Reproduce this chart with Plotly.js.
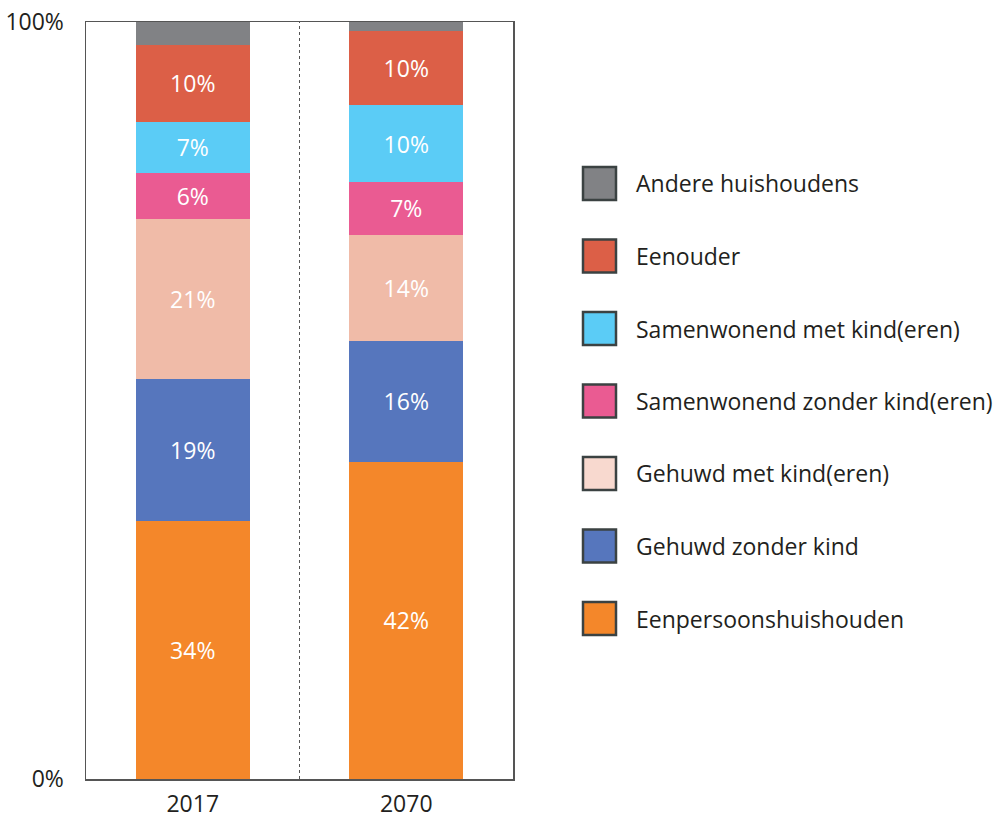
<!DOCTYPE html>
<html>
<head>
<meta charset="utf-8">
<script src="https://cdn.plot.ly/plotly-3.0.1.min.js"></script>
<style>html,body{margin:0;padding:0;background:#fff;}#chart{width:999px;height:820px;}</style>
</head>
<body>
<div id="chart"></div>
<script>
// Data
const years = ['2017', '2070'];
// bottom to top stacking order
const categories = [
  'Eenpersoonshuishouden',
  'Gehuwd zonder kind',
  'Gehuwd met kind(eren)',
  'Samenwonend zonder kind(eren)',
  'Samenwonend met kind(eren)',
  'Eenouder',
  'Andere huishoudens'
];
const values2017 = [34.1, 18.8, 21.1, 6.1, 6.7, 10.2, 3.0];
const values2070 = [41.9, 16.0, 14.0, 7.0, 10.1, 9.8, 1.2];
const barColors = ['#F4872A', '#5676BD', '#F0BBA8', '#EA5B92', '#5BCCF6', '#DC5F47', '#818285'];
const legendColors = ['#F4872A', '#5676BD', '#F8D9CF', '#EA5B92', '#5BCCF6', '#DC5F47', '#818285'];
const showLabel = [true, true, true, true, true, true, false];
const yTickVals = [0, 100];
const yTickText = ['0%', '100%'];

const FONT = '"Open Sans", "Noto Sans", sans-serif';
const TXT = '#231f20';
const FS = 23;

const traces = categories.map((c, i) => ({
  type: 'bar',
  name: c,
  x: years,
  y: [values2017[i], values2070[i]],
  marker: {color: barColors[i], line: {width: 0}},
  texttemplate: showLabel[i] ? '%{y:.0f}%' : '',
  textposition: showLabel[i] ? 'inside' : 'none',
  insidetextanchor: 'middle',
  textangle: 0,
  insidetextfont: {family: FONT, size: FS, color: '#ffffff'},
  hoverinfo: 'skip',
  showlegend: false
}));

// plot area in pixels
const L = 86, R = 513, T = 22, B = 779;
const px2x = p => (p - L) / (R - L);
const py2y = p => (B - p) / (B - T);

const shapes = [
  {type: 'line', xref: 'x', yref: 'paper', x0: 0.5, x1: 0.5, y0: 0, y1: 1,
   line: {color: '#555', width: 1, dash: 'dot'}, layer: 'below'}
];
const annotations = [];
// legend, top to bottom
for (let k = 0; k < categories.length; k++) {
  const i = categories.length - 1 - k;
  const cy = 183.5 + k * 72.5;
  shapes.push({
    type: 'rect', xref: 'paper', yref: 'paper',
    x0: px2x(583), x1: px2x(616), y0: py2y(cy + 16.5), y1: py2y(cy - 16.5),
    fillcolor: legendColors[i], line: {color: '#3b4242', width: 2.5}
  });
  annotations.push({
    xref: 'paper', yref: 'paper', x: px2x(634), y: py2y(cy),
    xanchor: 'left', yanchor: 'middle', showarrow: false,
    text: categories[i], font: {family: FONT, size: FS, color: TXT}
  });
}

const layout = {
  width: 999, height: 820,
  margin: {l: L, r: 999 - R, t: T, b: 820 - B, pad: 0},
  paper_bgcolor: '#fff', plot_bgcolor: '#fff',
  barmode: 'stack',
  bargap: 0.466,
  showlegend: false,
  font: {family: FONT, size: FS, color: TXT},
  xaxis: {
    type: 'category', range: [-0.5, 1.5],
    showgrid: false, zeroline: false,
    showline: true, linecolor: '#555', linewidth: 1.5, mirror: true,
    ticks: '', ticklabelstandoff: 4,
    tickfont: {family: FONT, size: FS, color: TXT},
    fixedrange: true
  },
  yaxis: {
    range: [0, 100],
    tickvals: yTickVals, ticktext: yTickText,
    showgrid: false, zeroline: false,
    showline: true, linecolor: '#555', linewidth: 1.5, mirror: true,
    ticks: '', ticklabelstandoff: 16,
    tickfont: {family: FONT, size: FS, color: TXT},
    fixedrange: true
  },
  shapes: shapes,
  annotations: annotations
};

Plotly.newPlot('chart', traces, layout, {displayModeBar: false, staticPlot: true});
</script>
</body>
</html>
